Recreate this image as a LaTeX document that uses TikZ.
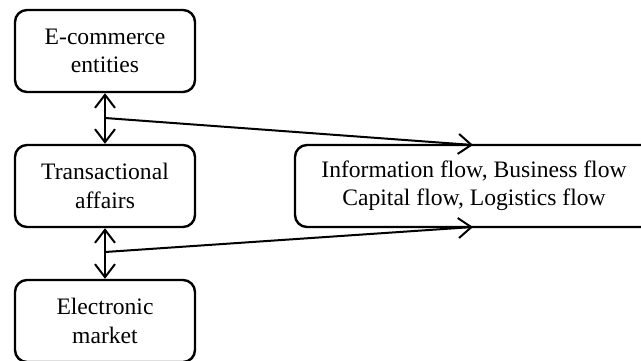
\documentclass[tikz,border=0pt]{standalone}
\usepackage{fontspec}
\setmainfont{Liberation Serif}
\usetikzlibrary{arrows.meta,calc}
\tikzset{
  box/.style={draw, line width=1.2pt, rounded corners=6pt, minimum width=90pt,
    minimum height=41pt, align=center, inner sep=0pt,
    font=\fontsize{11.8}{14.2}\selectfont},
  link/.style={line width=1pt, -{Straight Barb[length=6.5pt,width=10pt,line width=1pt]}},
  bilink/.style={line width=1pt, {Straight Barb[length=6.5pt,width=10pt,line width=1pt]}-{Straight Barb[length=6.5pt,width=10pt,line width=1pt]}}
}
\begin{document}
\begin{tikzpicture}[x=0.5pt, y=-0.5pt]
  \useasboundingbox (0,0) rectangle (641,360);
  % Boxes
  \node[box] (ent) at (105,51) {E-commerce\\entities};
  \node[box] (aff) at (105,186) {Transactional\\affairs};
  \node[box] (mkt) at (105,321) {Electronic\\market};
  \node[box, minimum width=179pt] (flow) at (474,186) {Information flow, Business flow\\Capital flow, Logistics flow};
  % Junctions and tips
  \coordinate (j1) at (105,118);
  \coordinate (j2) at (105,252);
  \coordinate (t1) at (473,145);
  \coordinate (t2) at (473,227);
  % Arrows
  \draw[bilink] (ent.south) -- (aff.north);
  \draw[bilink] (aff.south) -- (mkt.north);
  \draw[link] (j1) -- (t1);
  \draw[link] (j2) -- (t2);
\end{tikzpicture}
\end{document}
